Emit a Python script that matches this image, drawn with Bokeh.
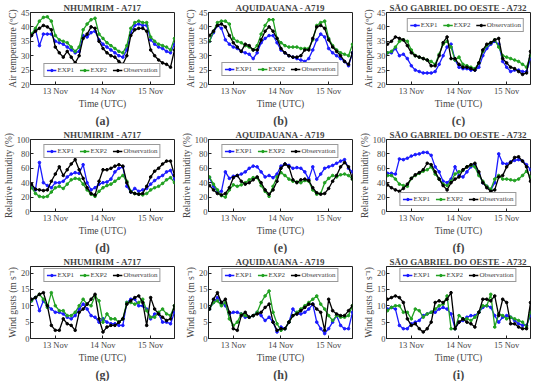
from bokeh.plotting import figure
from bokeh.layouts import gridplot
from bokeh.models import Range1d, FixedTicker, Legend, LegendItem, Title
from bokeh.embed import file_html
from bokeh.resources import INLINE

# time axis: hours since 12 Nov 00 UTC, every 2 h
hours = [12, 14, 16, 18, 20, 22, 24, 26, 28, 30, 32, 34, 36, 38, 40, 42, 44, 46, 48,
         50, 52, 54, 56, 58, 60, 62, 64, 66, 68, 70, 72, 74, 76, 78, 80, 82, 84]
day_ticks = [24, 48, 72]
day_labels = ["13 Nov", "14 Nov", "15 Nov"]

stations = ["NHUMIRIM - A717", "AQUIDAUANA - A719", "SÃO GABRIEL DO OESTE - A732"]
tags = ["(a)", "(b)", "(c)", "(d)", "(e)", "(f)", "(g)", "(h)", "(i)"]
ylabels = ["Air temperature (ºC)", "Relative humidity (%)", "Wind gusts (m s⁻¹)"]
series_names = ["EXP1", "EXP2", "Observation"]

# ---- Air temperature (ºC)
a_exp1 = [37, 39, 33.5, 37.5, 37.5, 37.5, 35, 34.5, 34, 33, 32, 31, 31.5, 37, 36.5, 38, 38.5, 35.5, 34,
          33, 32, 31, 30, 29.5, 32, 38, 40.5, 41, 40.5, 40.5, 35.5, 34, 33, 32.5, 31.5, 31, 34]
a_exp2 = [37.5, 39.5, 42, 43.3, 43.5, 42, 37, 35.5, 35, 34.5, 33, 31.5, 33, 39, 41, 42.5, 43, 37.5, 36,
          34.5, 33.5, 32.5, 31.5, 31, 33.5, 39.5, 41.5, 42, 41.5, 41.5, 36.5, 35, 34, 33.5, 33, 32, 36]
a_obs = [37, 38.5, 39.5, 40.5, 40, 39, 33, 31, 29.5, 31.5, 29.5, 27.5, 30, 36, 37.5, 40, 39.5, 35, 32.5,
         31, 30, 29.5, 28, 27, 30, 37, 39, 39.5, 39.5, 38.5, 32, 30, 28.5, 27.5, 27, 26, 32]

b_exp1 = [35, 38, 40.5, 39.5, 35.5, 34, 33, 32.5, 31.5, 31, 30.5, 29, 31, 34.5, 36, 37, 37, 34.5, 32,
          31, 30, 29.5, 29, 28.5, 28, 29, 32, 35.5, 37.5, 36.5, 32.5, 31, 30, 29, 28, 26.5, 31]
b_exp2 = [35, 38.5, 41.5, 42, 42, 41, 36, 35, 34.5, 33.5, 33, 32, 33.5, 37.5, 40.5, 42.5, 42.5, 36, 34.5,
          33.5, 33, 33, 33, 32.5, 32.5, 32.5, 35.5, 40.5, 41.5, 42, 36, 33.5, 32, 31, 30.5, 30, 34]
b_obs = [37, 38.5, 40.5, 41, 40, 37, 34.5, 33, 31.5, 34, 33.5, 32, 32, 35.5, 38.5, 40, 38.5, 36, 32.5,
         31, 30, 29.5, 29.5, 30, 32, 32, 36, 40, 40.5, 39.5, 35.5, 33, 31.5, 30, 28, 27, 31]

c_exp1 = [31, 31, 32.5, 30, 30.5, 29, 26.5, 25, 24.5, 24, 24, 24, 24.5, 27, 30, 33, 34, 28.5, 26,
          25.5, 25.5, 25, 25, 26, 30, 32.5, 34, 35, 34, 28, 26, 24.5, 25, 25, 24.5, 24.5, 29]
c_exp2 = [31, 31.5, 33, 35, 35.5, 35, 32, 30, 29.5, 29, 28.5, 28, 27, 30.5, 34, 35, 33, 28.5, 29.5,
          27, 26.5, 26, 25.5, 27.5, 31.5, 33.5, 34.5, 35.5, 33, 30, 29.5, 29, 28.5, 28, 27, 26, 30]
c_obs = [34, 35, 36.5, 36, 35.5, 33.5, 31, 30, 29.5, 29, 28.5, 26.5, 26.5, 30, 34.5, 36.5, 29, 29, 27,
         26, 26, 25.5, 25, 27.5, 32, 34, 34.5, 35.5, 36, 29, 27.5, 26, 25.5, 24.5, 23.5, 24, 31.5]

# ---- Relative humidity (%)
d_exp1 = [35, 30, 68, 40, 36, 33, 40, 40, 42, 48, 52, 54, 53, 65, 40, 30, 33, 38, 40,
          41, 45, 55, 60, 62, 35, 27, 32, 28, 30, 32, 38, 43, 47, 50, 55, 57, 45]
d_exp2 = [33, 25, 21, 20, 21, 27, 33, 35, 32, 38, 44, 46, 45, 38, 30, 24, 21, 28, 33,
          36, 38, 42, 46, 50, 42, 28, 25, 24, 23, 25, 30, 33, 35, 39, 44, 47, 40]
d_obs = [38, 31, 30, 29, 30, 42, 52, 62, 50, 58, 66, 72, 58, 46, 33, 25, 23, 42, 58,
         58, 60, 63, 65, 63, 40, 27, 25, 24, 25, 35, 48, 56, 60, 66, 70, 70, 50]

e_exp1 = [47, 35, 28, 28, 55, 46, 49, 50, 52, 55, 60, 63, 62, 55, 48, 50, 47, 52, 63,
          66, 64, 60, 61, 60, 55, 45, 62, 45, 52, 60, 62, 64, 67, 70, 72, 60, 55]
e_exp2 = [48, 38, 30, 22, 20, 30, 37, 35, 37, 40, 44, 47, 47, 36, 28, 21, 35, 48, 54,
          50, 45, 42, 41, 40, 43, 42, 30, 24, 25, 40, 46, 50, 48, 51, 52, 50, 45]
e_obs = [36, 30, 25, 23, 25, 33, 47, 50, 42, 38, 40, 44, 48, 40, 30, 24, 30, 42, 60,
         66, 62, 44, 40, 44, 45, 43, 33, 26, 24, 25, 32, 42, 50, 62, 68, 62, 45]

f_exp1 = [53, 53, 52, 73, 72, 74, 77, 79, 80, 82, 82, 78, 62, 55, 42, 40, 45, 62, 50,
          48, 55, 62, 65, 52, 40, 35, 30, 40, 80, 67, 66, 69, 71, 72, 70, 65, 58]
f_exp2 = [50, 50, 45, 38, 36, 35, 46, 50, 53, 56, 58, 62, 52, 45, 38, 36, 42, 52, 55,
          57, 62, 64, 62, 50, 42, 35, 31, 45, 50, 45, 45, 44, 43, 45, 50, 56, 48]
f_obs = [37, 33, 30, 28, 32, 38, 46, 51, 54, 58, 67, 65, 55, 45, 36, 30, 40, 45, 48,
         58, 62, 65, 67, 55, 40, 33, 28, 30, 48, 50, 62, 68, 75, 76, 70, 62, 42]

# ---- Wind gusts (m s-1)
g_exp1 = [11.5, 12.5, 8.5, 11.5, 10, 9, 8, 8, 7.5, 6.5, 6, 7, 9, 10.5, 9, 7, 6.5, 5, 6,
          5, 4.5, 4.5, 4, 4, 11, 12, 12, 10, 10, 9, 6, 7.5, 7.5, 5, 5, 4.5, 8]
g_exp2 = [11.5, 12.5, 13.5, 12, 9.5, 14, 10, 8.5, 8.5, 7, 7, 8, 10, 12, 10.5, 10, 13, 11.5, 5,
          7.5, 6, 6, 5, 6, 11, 11, 10.5, 11, 12, 8.5, 6.5, 6.5, 8, 9, 7.5, 7, 10]
g_obs = [12, 12.5, 13.5, 14, 10, 4, 2.5, 2.5, 6, 4.5, 4, 2.5, 8, 9, 10.5, 12, 13.5, 6, 2,
         3.5, 4, 4, 5, 6, 10.5, 11.5, 12.5, 13, 11, 4, 12.5, 9, 7.5, 6.5, 5.5, 6, 10]

h_exp1 = [9, 11, 12.5, 11, 10, 7.5, 8, 8, 7.5, 6.5, 6.5, 7, 8, 7, 5.5, 6.5, 5, 2, 3.5,
          3, 5, 9, 7.5, 7.5, 8, 9, 10.5, 5, 3, 1.5, 3, 5, 7, 4, 3, 3, 8]
h_exp2 = [9, 11, 11.5, 10, 11, 6, 4, 5, 7.5, 7, 6.5, 7, 8, 11, 13, 14.5, 8, 4.5, 2.5,
          3, 5, 7, 8, 9, 10, 11, 12, 13, 10.5, 9, 7, 5.5, 7, 6.5, 6.5, 7, 10]
h_obs = [9, 12, 14, 11, 12, 8, 3, 2.5, 7, 8, 6.5, 7, 7.5, 8, 9.5, 10.5, 5, 2.5, 3,
         3, 5, 7, 7.5, 8.5, 9.5, 10.5, 10.5, 9, 8, 2.5, 12, 8.5, 7.5, 7, 7, 8.5, 10]

i_exp1 = [9, 9.5, 9, 4, 3, 3, 4.5, 5, 5.5, 7, 7.5, 8, 8, 9, 9.5, 9, 7.5, 3, 5,
          5.5, 6.5, 7, 7, 8, 9.5, 10, 9.5, 7, 5, 6.5, 7, 6.5, 5.5, 4.5, 4, 4, 7]
i_exp2 = [8.5, 9.5, 10, 10, 8, 8, 6, 9, 8.5, 6.5, 7.5, 8, 9, 10, 10.5, 13, 3, 3, 7,
          6, 6, 5.5, 6.5, 8, 10, 10, 13.5, 3.5, 7.5, 7, 6, 6.5, 6, 5.5, 5, 3.5, 8]
i_obs = [12, 12.5, 13, 12.5, 11, 6, 4, 4.5, 3, 2, 3, 5, 11, 11.5, 11, 12, 14, 3, 5,
         6, 5, 4.5, 3.5, 8, 12, 12, 11.5, 13, 7, 12, 11, 4.5, 4.5, 3.5, 3, 3, 11]

temp_range, temp_ticks = (20, 45), [20, 25, 30, 35, 40, 45]
rh_range, rh_ticks = (0, 100), [0, 20, 40, 60, 80, 100]
wind_range, wind_ticks = (0, 22), [0, 5, 10, 15, 20]

SERIF = "Liberation Serif"
COLORS = ["#1a1aff", "#21a121", "#000000"]


def panel(title, tag, ylabel, yr, yticks, data, loc, margin):
    p = figure(width=178, height=127, x_range=Range1d(11.5, 84), y_range=Range1d(*yr),
               output_backend="svg", toolbar_location=None,
               min_border_left=30, min_border_right=4, min_border_top=12, min_border_bottom=0)
    p.title.text = title
    p.title.align = "center"
    p.title.text_font = SERIF
    p.title.text_font_size = "9px"
    p.title.text_font_style = "bold"
    p.title.standoff = 0
    p.outline_line_color = "#222222"
    p.grid.visible = False
    p.xaxis.ticker = FixedTicker(ticks=day_ticks)
    p.xaxis.major_label_overrides = dict(zip(day_ticks, day_labels))
    p.yaxis.ticker = FixedTicker(ticks=yticks)
    p.xaxis.axis_label = "Time (UTC)"
    p.yaxis.axis_label = ylabel
    for ax in (p.xaxis[0], p.yaxis[0]):
        ax.axis_label_text_font = SERIF
        ax.axis_label_text_font_size = "9.5px"
        ax.axis_label_text_font_style = "normal"
        ax.axis_label_standoff = 0
        ax.major_label_text_font = SERIF
        ax.major_label_text_font_size = "8.5px"
        ax.major_label_standoff = 1
        ax.major_tick_in = 3
        ax.major_tick_out = 0
        ax.minor_tick_in = 0
        ax.minor_tick_out = 0
        ax.axis_line_color = "#222222"
        ax.major_tick_line_color = "#222222"
    items = []
    for name, vals, col in zip(series_names, data, COLORS):
        ln = p.line(hours, vals, line_color=col, line_width=1.3)
        sc = p.scatter(hours, vals, marker="circle", size=2.6, color=col)
        items.append(LegendItem(label=name, renderers=[ln, sc]))
    leg = Legend(items=items, orientation="horizontal", location=loc, margin=margin,
                 label_text_font=SERIF, label_text_font_size="7px",
                 glyph_width=10, glyph_height=6, label_height=6, label_standoff=1,
                 spacing=2, padding=2, border_line_color="#333333", border_line_width=1,
                 background_fill_alpha=1.0)
    p.add_layout(leg)
    p.add_layout(Title(text=tag, align="center", text_font=SERIF, text_font_size="12px",
                       text_font_style="bold", standoff=0), "below")
    return p


plots = [
    panel(stations[0], tags[0], ylabels[0], temp_range, temp_ticks, [a_exp1, a_exp2, a_obs], "bottom_center", 7),
    panel(stations[1], tags[1], ylabels[0], temp_range, temp_ticks, [b_exp1, b_exp2, b_obs], "bottom_center", 8),
    panel(stations[2], tags[2], ylabels[0], temp_range, temp_ticks, [c_exp1, c_exp2, c_obs], "top_right", 6),
    panel(stations[0], tags[3], ylabels[1], rh_range, rh_ticks, [d_exp1, d_exp2, d_obs], "top_center", 5),
    panel(stations[1], tags[4], ylabels[1], rh_range, rh_ticks, [e_exp1, e_exp2, e_obs], "top_center", 5),
    panel(stations[2], tags[5], ylabels[1], rh_range, rh_ticks, [f_exp1, f_exp2, f_obs], "bottom_center", 5),
    panel(stations[0], tags[6], ylabels[2], wind_range, wind_ticks, [g_exp1, g_exp2, g_obs], "top_center", 2),
    panel(stations[1], tags[7], ylabels[2], wind_range, wind_ticks, [h_exp1, h_exp2, h_obs], "top_center", 2),
    panel(stations[2], tags[8], ylabels[2], wind_range, wind_ticks, [i_exp1, i_exp2, i_obs], "top_center", 2),
]

grid = gridplot([plots[0:3], plots[3:6], plots[6:9]], toolbar_location=None)
open("out.html", "w").write(file_html(grid, INLINE))
